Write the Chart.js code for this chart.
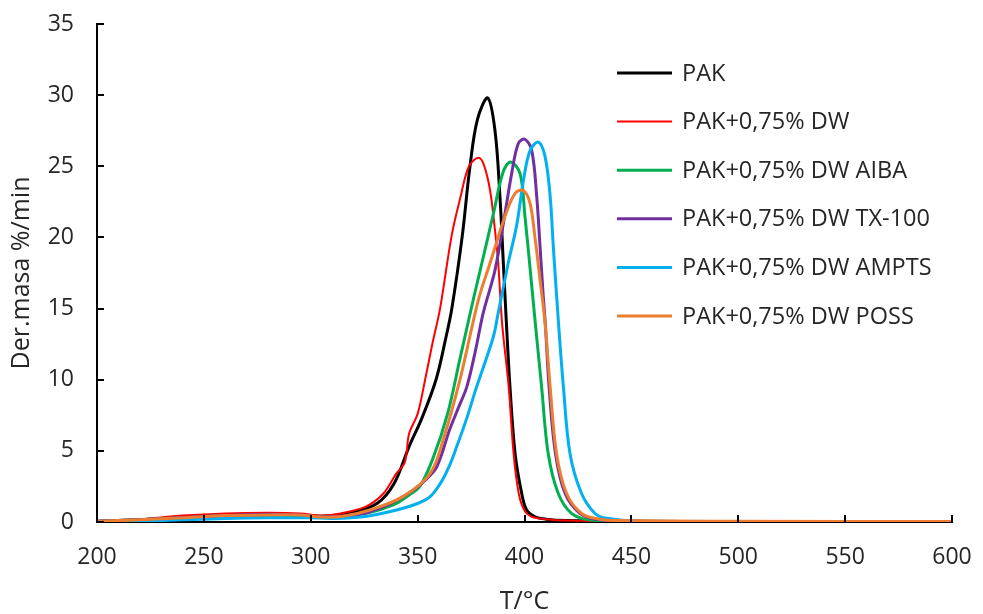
<!DOCTYPE html>
<html>
<head>
<meta charset="utf-8">
<script src="https://cdn.jsdelivr.net/npm/chart.js@4.4.1/dist/chart.umd.min.js"></script>
<style>
    body { margin: 0; background: #fff; }
    #wrap { width: 983px; height: 614px; }
</style>
</head>
<body>
<div id="wrap"><canvas id="dtg-chart" width="983" height="614"></canvas></div>
<script>
// series labels and colours
const seriesLabels = ['PAK', 'PAK+0,75% DW', 'PAK+0,75% DW AIBA', 'PAK+0,75% DW TX-100', 'PAK+0,75% DW AMPTS', 'PAK+0,75% DW POSS'];
const seriesColors = ['#000000', '#ff0000', '#00b050', '#7030a0', '#00b0f0', '#ed7d31'];

// PAK
const pakT = [200, 220, 240, 260, 280, 295, 305, 318, 331, 339, 346, 352, 358.6, 363, 366, 370.8, 374.5, 378, 382.8, 386.2, 388.5, 390.1, 391.7, 393.2, 395.6, 398.7, 401, 405, 410, 420, 450, 500, 550, 600];
const pakV = [0.05, 0.15, 0.3, 0.45, 0.5, 0.5, 0.4, 0.6, 1.3, 2.7, 5.3, 7.3, 10.0, 12.8, 15.0, 20.0, 25.0, 28.3, 29.8, 27.5, 22.9, 18.2, 13.5, 9.5, 4.8, 2.0, 0.84, 0.37, 0.2, 0.1, 0.05, 0.03, 0.02, 0.02];

// PAK+0,75% DW
const dwT = [200, 220, 240, 260, 280, 295, 305, 314, 326, 334, 340, 344, 346, 350, 353.5, 357, 360.5, 366, 370, 374, 378.4, 381, 383.9, 386.2, 387.7, 389.5, 392.6, 394.9, 397.3, 400, 403.4, 410, 420, 450, 500, 600];
const dwV = [0.05, 0.2, 0.45, 0.6, 0.65, 0.6, 0.45, 0.6, 1.1, 2.0, 3.4, 4.2, 6.2, 7.6, 10.0, 12.6, 15.0, 20.2, 22.8, 25.0, 25.6, 25.1, 23.3, 20.5, 18.2, 14.0, 9.5, 4.8, 2.0, 0.8, 0.37, 0.2, 0.1, 0.05, 0.03, 0.02];

// PAK+0,75% DW AIBA
const aibaT = [200, 220, 240, 260, 280, 295, 305, 315, 325, 333, 340, 346, 351, 357, 364, 370, 376, 381, 385.5, 390, 393.5, 397.9, 400.2, 402.5, 404.9, 408, 411.1, 415.8, 422, 430, 450, 500, 600];
const aibaV = [0.05, 0.15, 0.3, 0.45, 0.5, 0.45, 0.35, 0.4, 0.6, 0.9, 1.3, 1.9, 2.5, 4.4, 7.6, 11.6, 15.6, 18.8, 21.7, 24.6, 25.3, 24.5, 21.5, 18.0, 14.2, 9.5, 4.8, 2.0, 0.6, 0.15, 0.05, 0.03, 0.02];

// PAK+0,75% DW TX-100
const txT = [200, 220, 240, 260, 280, 295, 305, 315, 325, 332, 340, 348, 354, 359, 365, 369, 373, 377, 380.7, 386.2, 390.9, 394, 397.1, 400.2, 403.4, 405.7, 407.3, 408.8, 409.8, 411.5, 414.5, 419, 426, 435, 450, 500, 600];
const txV = [0.05, 0.15, 0.3, 0.45, 0.55, 0.5, 0.35, 0.4, 0.6, 0.96, 1.5, 2.25, 3.0, 3.9, 6.5, 8.0, 9.5, 12.0, 14.7, 17.7, 21.7, 24.5, 26.6, 26.9, 26.1, 22.9, 19.3, 15.8, 13.8, 9.5, 4.8, 2.0, 0.6, 0.15, 0.05, 0.03, 0.02];

// PAK+0,75% DW AMPTS
const amptsT = [200, 220, 240, 260, 280, 300, 310, 324.6, 340.2, 350, 356, 361, 365, 368.3, 373, 377.6, 385.4, 387.7, 392.4, 396.4, 399.5, 402.6, 406.5, 409.6, 412, 413.5, 415.8, 418.2, 421.3, 426.7, 433, 438.5, 454, 500, 600];
const amptsV = [0.03, 0.08, 0.15, 0.25, 0.3, 0.3, 0.25, 0.37, 0.84, 1.3, 1.8, 2.8, 4.0, 5.3, 7.3, 9.5, 13.0, 14.7, 18.2, 20.9, 24.0, 26.1, 26.7, 25.7, 22.9, 19.3, 14.2, 9.5, 4.8, 2.0, 0.6, 0.26, 0.05, 0.03, 0.02];

// PAK+0,75% DW POSS
const possT = [200, 220, 240, 260, 280, 295, 305, 315, 327.7, 343.3, 355.8, 362, 369.8, 378.4, 383.9, 386.2, 390.9, 395.6, 399.5, 402.6, 404.9, 407.3, 409.6, 412, 415, 419.7, 426.7, 435, 446, 500, 600];
const possV = [0.05, 0.15, 0.3, 0.45, 0.5, 0.5, 0.35, 0.4, 0.84, 1.8, 3.4, 5.8, 10.0, 15.6, 18.2, 19.3, 21.5, 23.1, 23.3, 22.4, 20.0, 17.0, 14.0, 9.5, 4.8, 2.0, 0.6, 0.2, 0.1, 0.05, 0.03];

// axis ticks
const xTicks = [200, 250, 300, 350, 400, 450, 500, 550, 600];
const yTicks = [0, 5, 10, 15, 20, 25, 30, 35];

const seriesT = [pakT, dwT, aibaT, txT, amptsT, possT];
const seriesV = [pakV, dwV, aibaV, txV, amptsV, possV];
const lineWidths = [3, 2, 3, 3, 3, 3];
const drawOrder = [5, 4, 3, 2, 1, 0];

const textColor = '#262626';
const fontFamily = '"Open Sans", sans-serif';

// inner tick marks on both axes
const innerTicks = {
    id: 'innerTicks',
    afterDatasetsDraw(chart) {
        const ctx = chart.ctx;
        const xs = chart.scales.x;
        const ys = chart.scales.y;
        const area = chart.chartArea;
        ctx.save();
        ctx.strokeStyle = '#000';
        ctx.lineWidth = 2;
        xTicks.forEach((t) => {
            const px = Math.round(xs.getPixelForValue(t));
            ctx.beginPath();
            ctx.moveTo(px, area.bottom);
            ctx.lineTo(px, area.bottom - 7);
            ctx.stroke();
        });
        yTicks.forEach((t) => {
            const py = Math.round(ys.getPixelForValue(t));
            ctx.beginPath();
            ctx.moveTo(area.left, py);
            ctx.lineTo(area.left + 7, py);
            ctx.stroke();
        });
        ctx.restore();
    }
};

// legend drawn inside the plot, top right
const insideLegend = {
    id: 'insideLegend',
    afterDraw(chart) {
        const ctx = chart.ctx;
        ctx.save();
        ctx.font = '23.5px ' + fontFamily;
        ctx.textBaseline = 'middle';
        ctx.textAlign = 'left';
        chart.data.datasets.forEach((ds, i) => {
            const y = 73 + i * 48.6;
            ctx.strokeStyle = ds.borderColor;
            ctx.lineWidth = ds.borderWidth;
            ctx.beginPath();
            ctx.moveTo(617, y);
            ctx.lineTo(672, y);
            ctx.stroke();
            ctx.fillStyle = textColor;
            ctx.fillText(ds.label, 682, y + 1);
        });
        ctx.restore();
    }
};

const datasets = seriesLabels.map((label, i) => ({
    label: label,
    data: seriesT[i].map((t, j) => ({ x: t, y: seriesV[i][j] })),
    borderColor: seriesColors[i],
    backgroundColor: seriesColors[i],
    borderWidth: lineWidths[i],
    pointRadius: 0,
    tension: 0.35,
    fill: false,
    order: drawOrder[i]
}));

const chartEl = document.getElementById('dtg-chart').getContext('2d');
const dtgChart = new Chart(chartEl, {
    type: 'line',
    data: { datasets: datasets },
    options: {
        responsive: false,
        animation: false,
        layout: { padding: { top: 24, right: 31, left: 0, bottom: 0 } },
        plugins: {
            legend: { display: false },
            tooltip: { enabled: false }
        },
        scales: {
            x: {
                type: 'linear',
                min: 200,
                max: 600,
                afterFit: (scale) => {
                    scale.height = 92;
                    scale.paddingLeft = 20;
                    scale.paddingRight = 20;
                },
                afterBuildTicks: (scale) => { scale.ticks = xTicks.map((v) => ({ value: v })); },
                grid: { display: false, drawTicks: false },
                border: { display: true, color: '#000', width: 2 },
                ticks: {
                    padding: 22,
                    color: textColor,
                    font: { family: fontFamily, size: 23 },
                    maxRotation: 0
                },
                title: {
                    display: true,
                    text: 'T/°C',
                    color: textColor,
                    font: { family: fontFamily, size: 25 },
                    padding: { top: 0, bottom: -3 }
                }
            },
            y: {
                min: 0,
                max: 35,
                afterFit: (scale) => {
                    scale.width = 97;
                    scale.paddingTop = 12;
                    scale.paddingBottom = 12;
                },
                afterBuildTicks: (scale) => { scale.ticks = yTicks.map((v) => ({ value: v })); },
                grid: { display: false, drawTicks: false },
                border: { display: true, color: '#000', width: 2 },
                ticks: {
                    padding: 23,
                    color: textColor,
                    font: { family: fontFamily, size: 23 }
                },
                title: {
                    display: true,
                    text: 'Der.masa %/min',
                    color: textColor,
                    font: { family: fontFamily, size: 25 },
                    padding: { top: 7, bottom: 0 }
                }
            }
        }
    },
    plugins: [innerTicks, insideLegend]
});
</script>
</body>
</html>
